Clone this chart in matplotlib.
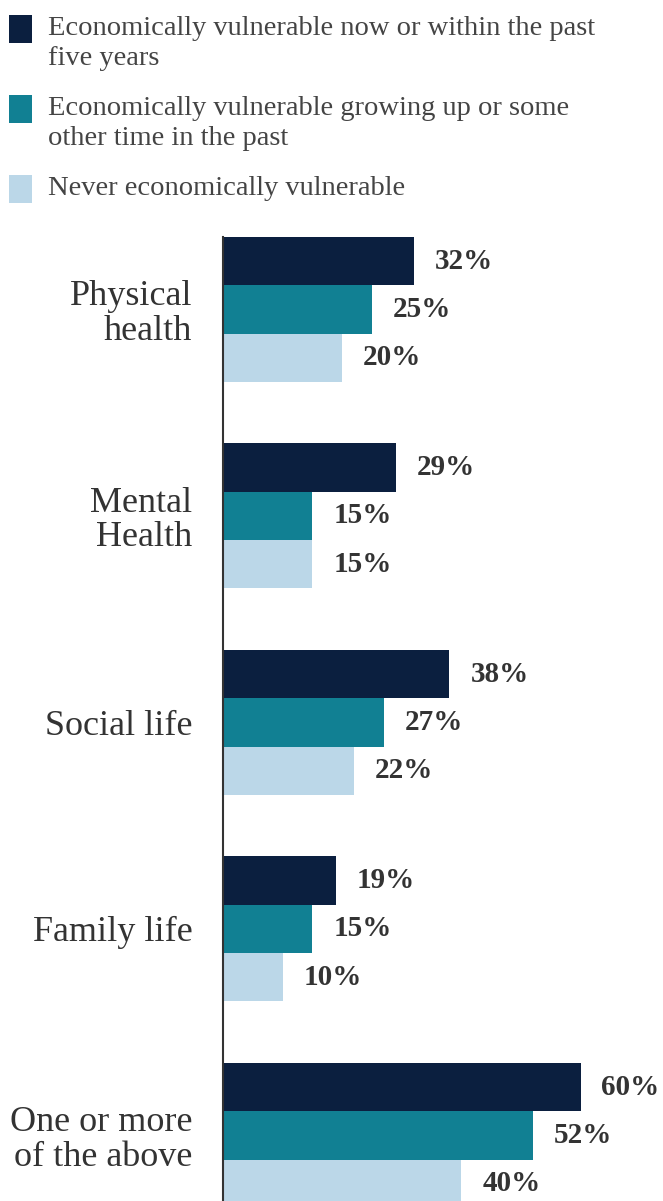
import numpy as np
import matplotlib
matplotlib.use("Agg")
import matplotlib.pyplot as plt
from matplotlib.patches import Rectangle

plt.rcParams['font.family'] = ['Liberation Serif', 'DejaVu Serif']

# data
categories = ["Physical\nhealth", "Mental\nHealth", "Social life", "Family life", "One or more\nof the above"]
series_names = [
    "Economically vulnerable now or within the past\nfive years",
    "Economically vulnerable growing up or some\nother time in the past",
    "Never economically vulnerable",
]
now_recent = [32, 29, 38, 19, 60]
past = [25, 15, 27, 15, 52]
never = [20, 15, 22, 10, 40]

colors = ["#0b1f3f", "#118093", "#bbd7e8"]
text_color = "#333333"

W, H = 663, 1201
fig = plt.figure(figsize=(W / 100, H / 100), dpi=100)

# bar area
left, top = 223, 237
ax = fig.add_axes([left / W, 0, 1 - left / W, (H - top) / H])

h = 48.3 / 206.5
y = np.arange(len(categories))
values = [now_recent, past, never]
for j, (vals, col) in enumerate(zip(values, colors)):
    pos = y + (j - 1) * h
    ax.barh(pos, vals, height=h, color=col, linewidth=0)
    for p, v in zip(pos, vals):
        ax.annotate(f"{v}%", (v, p), xytext=(15, 0), textcoords="offset points",
                    ha="left", va="center", fontsize=21, fontweight="bold",
                    color=text_color)

ax.set_xlim(0, (W - left) / 5.96)
ax.set_ylim(-1.5 * h + (H - top) / 206.5, -1.5 * h)

ax.set_yticks(y)
ax.set_yticklabels(categories, fontsize=26, color=text_color, linespacing=1.05)
ax.tick_params(axis="y", length=0, pad=22)
ax.set_xticks([])
for s in ["top", "right", "bottom"]:
    ax.spines[s].set_visible(False)
ax.spines["left"].set_color(text_color)
ax.spines["left"].set_linewidth(1.5)

# legend drawn in pixel space
lax = fig.add_axes([0, 0, 1, 1], facecolor="none")
lax.set_xlim(0, W)
lax.set_ylim(H, 0)
lax.axis("off")
sq_tops = [15, 95, 175]
last_baselines = [65, 145, 195]
for name, col, st, bl in zip(series_names, colors, sq_tops, last_baselines):
    lax.add_patch(Rectangle((9, st), 23, 28, color=col, linewidth=0))
    lax.text(48, bl, name, fontsize=20.5, color="#444444", ha="left",
             va="baseline", linespacing=1.25)

fig.savefig("out.png", dpi=100)
